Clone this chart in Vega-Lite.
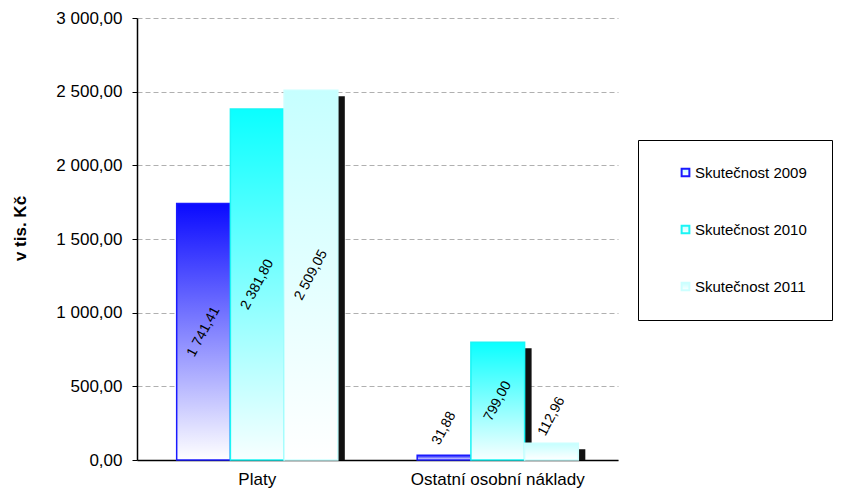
{
  "$schema": "https://vega.github.io/schema/vega-lite/v6.json",
  "autosize": {"type": "none"},
  "width": 481,
  "height": 442,
  "padding": {"left": 137, "top": 18, "right": 225, "bottom": 30},
  "background": "white",
  "config": {
    "locale": {"number": {"decimal": ",", "thousands": "\u00a0", "grouping": [3], "currency": ["", " Kč"]}},
    "font": "Liberation Sans",
    "view": {"stroke": null}
  },
  "data": {"values": [
    {"kategorie": "Platy", "rok": "Skutečnost 2009", "hodnota": 1741.41},
    {"kategorie": "Platy", "rok": "Skutečnost 2010", "hodnota": 2381.80},
    {"kategorie": "Platy", "rok": "Skutečnost 2011", "hodnota": 2509.05},
    {"kategorie": "Ostatní osobní náklady", "rok": "Skutečnost 2009", "hodnota": 31.88},
    {"kategorie": "Ostatní osobní náklady", "rok": "Skutečnost 2010", "hodnota": 799.00},
    {"kategorie": "Ostatní osobní náklady", "rok": "Skutečnost 2011", "hodnota": 112.96}
  ]},
  "encoding": {
    "x": {"field": "kategorie", "type": "nominal",
      "scale": {"domain": ["Platy", "Ostatní osobní náklady"], "paddingInner": 0.33, "paddingOuter": 0.165}, "axis": null},
    "xOffset": {"field": "rok", "type": "nominal", "scale": {"domain": ["Skutečnost 2009", "Skutečnost 2010", "Skutečnost 2011"], "paddingInner": 0, "paddingOuter": 0}}
  },
  "layer": [
    {
      "mark": {"type": "bar", "color": "#111111", "yOffset": 6, "clip": true},
      "encoding": {
        "x": {"field": "kategorie", "type": "nominal",
          "scale": {"domain": ["Platy", "Ostatní osobní náklady"], "paddingInner": 0.33, "paddingOuter": 0.165, "range": [7, 488]}, "axis": null},
        "y": {"field": "hodnota", "type": "quantitative", "scale": {"domain": [0, 3000], "nice": false}, "axis": null}
      }
    },
    {
      "mark": {"type": "bar", "strokeWidth": 1.5},
      "encoding": {
        "x": {"field": "kategorie", "type": "nominal",
          "scale": {"domain": ["Platy", "Ostatní osobní náklady"], "paddingInner": 0.33, "paddingOuter": 0.165},
          "axis": {"title": null, "labelAngle": 0, "labelFontSize": 17, "labelColor": "#000", "domainColor": "#000", "domainWidth": 1.5, "ticks": false, "labelPadding": 11, "grid": false}},
        "y": {"field": "hodnota", "type": "quantitative", "scale": {"domain": [0, 3000], "nice": false},
          "axis": {"title": "v tis. Kč", "titleFontSize": 17, "titleFontWeight": "bold", "titleColor": "#000", "titleX": -108, "titleY": 210,
            "values": [0, 500, 1000, 1500, 2000, 2500, 3000], "format": ",.2f", "labelFontSize": 17, "labelColor": "#000", "labelPadding": 10,
            "domainColor": "#000", "domainWidth": 1.5, "tickColor": "#000", "tickSize": 5,
            "grid": true, "gridColor": "#b0b0b0", "gridDash": [5, 3], "gridWidth": 1}},
        "stroke": {"field": "rok", "type": "nominal", "scale": {"domain": ["Skutečnost 2009", "Skutečnost 2010", "Skutečnost 2011"], "range": ["#1a1aff", "#1af5f5", "#ccffff"]},
          "legend": {"title": null, "orient": "none", "legendX": 501, "legendY": 122, "strokeColor": "#000", "fillColor": "#fff", "padding": 25, "rowPadding": 40, "symbolType": "square", "symbolSize": 60, "symbolStrokeWidth": 2, "symbolFillColor": "#e8f4ff", "symbolOffset": 15, "labelFontSize": 15, "labelColor": "#000", "labelOffset": 2}},
        "fill": {
          "condition": [
            {"test": "datum.rok === 'Skutečnost 2009'", "value": {"gradient": "linear", "x1": 0, "y1": 0, "x2": 0, "y2": 1, "stops": [{"offset": 0, "color": "#0a0aff"}, {"offset": 1, "color": "#ffffff"}]}},
            {"test": "datum.rok === 'Skutečnost 2010'", "value": {"gradient": "linear", "x1": 0, "y1": 0, "x2": 0, "y2": 1, "stops": [{"offset": 0, "color": "#0affff"}, {"offset": 1, "color": "#f8ffff"}]}}
          ],
          "value": {"gradient": "linear", "x1": 0, "y1": 0, "x2": 0, "y2": 1, "stops": [{"offset": 0, "color": "#c6ffff"}, {"offset": 1, "color": "#ffffff"}]}
        }
      }
    },
    {
      "transform": [{"filter": "datum.hodnota >= 500"}],
      "mark": {"type": "text", "angle": -62, "align": "center", "baseline": "middle", "fontSize": 14, "color": "#000"},
      "encoding": {
        "y": {"field": "hodnota", "type": "quantitative", "scale": {"domain": [0, 6000], "nice": false}, "axis": null},
        "text": {"field": "hodnota", "type": "quantitative", "format": ",.2f"}
      }
    },
    {
      "transform": [{"filter": "datum.hodnota < 500"}],
      "mark": {"type": "text", "angle": -62, "align": "center", "baseline": "middle", "fontSize": 14, "color": "#000", "yOffset": -27},
      "encoding": {
        "y": {"field": "hodnota", "type": "quantitative", "scale": {"domain": [0, 3000], "nice": false}, "axis": null},
        "text": {"field": "hodnota", "type": "quantitative", "format": ",.2f"}
      }
    }
  ],
  "resolve": {"scale": {"y": "independent", "x": "independent"}}
}
